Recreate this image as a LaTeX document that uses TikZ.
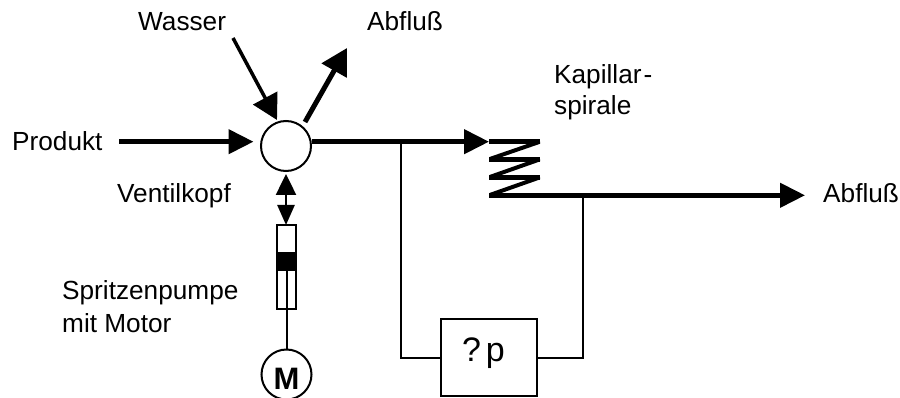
\documentclass[tikz,border=0pt]{standalone}
\usepackage{fontspec}
\setmainfont{Liberation Sans}
\usetikzlibrary{arrows.meta,calc}
\tikzset{
 lbl/.style={inner sep=0pt,anchor=base west,font=\fontsize{26.2}{30}\selectfont},
 thick line/.style={line width=4.5pt},
 thin line/.style={line width=2pt},
 flow/.style={thick line,-{Triangle[length=25pt,width=24pt]}},
 ring/.style={circle,draw,line width=2pt,minimum size=50pt,inner sep=0pt},
 flat/.style={inner sep=0pt,outer sep=0pt}
}
\begin{document}
\begin{tikzpicture}[x=1pt,y=-1pt]
\useasboundingbox (0,0) rectangle (900,398);
\clip (0,0) rectangle (900,398);
% valve and motor
\node[ring] (valve) at (286,146) {};
\node[ring,font=\fontsize{31}{33}\selectfont\bfseries] (motor) at (286.5,374.5) {\raisebox{0pt}[29pt][0pt]{M}};
% labels
\node[lbl] (produkt) at (12,151) {Produkt};
\node[lbl] (wasser) at (138,31) {Wasser};
\node[lbl] (abfl1) at (367,31) {Abfluß};
\node[lbl] (kap1) at (554,84) {Kapillar\kern2pt-};
\node[lbl] (kap2) at (554,115) {spirale};
\node[lbl] (abfl2) at (823,203) {Abfluß};
\node[lbl] (vk) at (117,203) {Ventilkopf};
\node[lbl] (sp1) at (62,299) {Spritzenpumpe};
\node[lbl] (sp2) at (62,332) {mit Motor};
% free ends
\coordinate (pstart) at (119,141.7);
\coordinate (wstart) at (233,38);
\coordinate (wend) at (277,120);
\coordinate (astart) at (305,122);
\coordinate (aend) at (347,48);
\coordinate (c0) at (489,141.7);
\coordinate (c1) at (540,141.7);
\coordinate (c2) at (489,159.3);
\coordinate (c3) at (540,159.3);
\coordinate (c4) at (489,177.3);
\coordinate (c5) at (540,177.3);
\coordinate (c6) at (489,195.3);
\coordinate (outend) at (805,195.3);
\coordinate (j1) at (401,141.7);
\coordinate (j2) at (583,195.3);
% syringe
\node[flat,draw,line width=2pt,minimum width=19pt,minimum height=84pt] (syr) at (286.5,267) {};
\node[flat,draw,fill=black,line width=1pt,minimum width=19pt,minimum height=18pt] (piston) at (286.5,262) {};
% pressure box
\node[flat,draw,line width=2pt,minimum width=96pt,minimum height=77pt,font=\fontsize{34}{40}\selectfont] (box) at (489,357.5) {\raisebox{0pt}[14pt][7pt]{?\kern5pt p}\kern11pt};
% flows
\draw[flow,shorten >=6.5pt] (pstart) -- (pstart -| valve.west);
\draw[line width=3.5pt,-{Triangle[length=25pt,width=27pt]}] (wstart) -- (wend);
\draw[line width=5pt,-{Triangle[length=26pt,width=28pt]}] (astart) -- (aend);
\draw[flow] (valve.east |- c0) -- (c0);
\draw[line width=2.5pt,{Triangle[length=21pt,width=20pt]}-{Triangle[length=20pt,width=17pt]}] (286,174) -- (286,225);
% capillary coil
\begin{scope}
\clip (489,135) rectangle (540,200);
\draw[line width=4pt] (c1) -- (c2) (c3) -- (c4) (c5) -- (c6);
\end{scope}
\draw[thick line] (c0) -- (c1) (c2) -- (c3) (c4) -- (c5);
\draw[flow] (c6) -- (outend);
% thin wires
\draw[thin line] (j1) -- (j1 |- box.west) -- (box.west);
\draw[thin line] (j2) -- (j2 |- box.east) -- (box.east);
\draw[thin line] (piston.south -| motor.north) -- (motor.north);
\end{tikzpicture}
\end{document}
